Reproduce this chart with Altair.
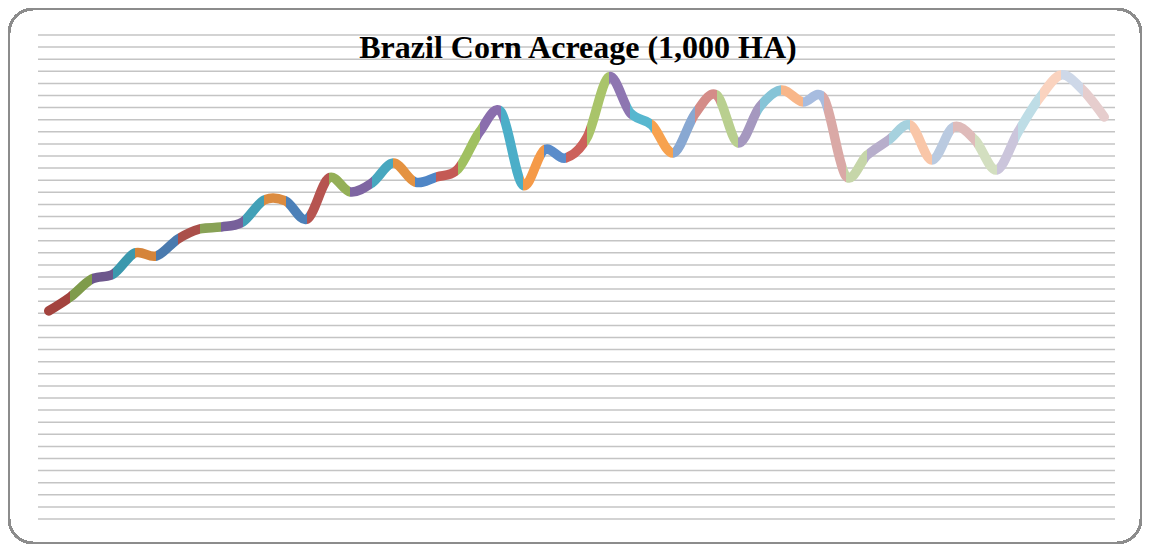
import altair as alt
import pandas as pd

# Brazil corn acreage (1,000 HA), one value per season
acreage = [6880, 7340, 7934, 8100, 8794, 8695, 9257, 9587, 9653, 9818,
           10546, 10513, 9918, 11273, 10810, 11108, 11769, 11141, 11306, 11571,
           12794, 13455, 11042, 12199, 11934, 12628, 14612, 13422, 13025, 12100,
           13389, 14017, 12430, 13621, 14183, 13786, 13885, 11340, 12034, 12530,
           13025, 11869, 12960, 12530, 11538, 12794, 13918, 14679, 14183, 13290]

# colour of each point (the segment that ends at the point takes its colour)
point_colors = ["#4A7AAA", "#A3433E", "#7F9B4B", "#6D578C", "#3B98AD", "#D5843A",
                "#4A7AAE", "#AA4F4A", "#88A256", "#77609A", "#42A0B7", "#DB8B40",
                "#4C80B8", "#B65450", "#94AF57", "#7E65A2", "#48A7BF", "#E49241",
                "#4F86C6", "#C45A55", "#A0C060", "#8A6EAD", "#4BAEC8", "#F59A48",
                "#5A8CCA", "#CC615B", "#A9C46A", "#8E76B1", "#57B7CF", "#F7A24F",
                "#88A8D2", "#D48C88", "#B9CF8F", "#A598BF", "#86C4D7", "#F8B689",
                "#A7BCDF", "#DAA9A6", "#C6D6A9", "#B7AECB", "#A6D1DE", "#F9C6A8",
                "#BACAE0", "#DFBBBA", "#D3DFC0", "#CBC5DB", "#BEDDE6", "#FAD3BF",
                "#CED8E8", "#E6CDCD"]

y_min, y_max, y_step = 0, 16000, 400
grid_values = list(range(y_min, y_max + 1, y_step))

n = len(acreage)
df = pd.DataFrame({"idx": list(range(n)), "acreage": acreage})
grid_df = pd.DataFrame({"acreage": grid_values,
                        "x0": [-0.5] * len(grid_values),
                        "x1": [n - 0.5] * len(grid_values)})

PLOT_W, PLOT_H = 1077, 484
unit = PLOT_W / n
y_scale = alt.Scale(domain=[y_min, y_max], nice=False, zero=False)

# panel edges (in category units), snapped to whole pixels so the layout stays exact
edges = [-0.5] + list(range(1, n - 1)) + [n - 0.5]
px_edges = [round((e + 0.5) * unit) for e in edges]

panels = []
for i in range(n - 1):
    w = px_edges[i + 1] - px_edges[i]
    lo = px_edges[i] / unit - 0.5
    hi = px_edges[i + 1] / unit - 0.5
    x_scale = alt.Scale(domain=[lo, hi], nice=False, zero=False)
    line = alt.Chart(df).mark_line(
        interpolate="cardinal", strokeWidth=9.5, strokeCap="round",
        strokeJoin="round", clip=True, color=point_colors[i + 1]
    ).encode(
        x=alt.X("idx:Q", scale=x_scale, axis=None),
        y=alt.Y("acreage:Q", scale=y_scale, axis=None),
    )
    if i == 0:
        frame = alt.Chart(df).mark_rect(
            filled=False, stroke="#8c8c8c", strokeWidth=2, cornerRadius=24, clip=False
        ).encode(x=alt.value(-29), x2=alt.value(1103), y=alt.value(-26), y2=alt.value(508))
        grid = alt.Chart(grid_df).mark_rule(
            color="#c4c4c4", strokeWidth=1.5, clip=False
        ).encode(
            y=alt.Y("acreage:Q", scale=y_scale, axis=None),
            x=alt.X("x0:Q", scale=x_scale, axis=None),
            x2="x1:Q",
        )
        panel = alt.layer(frame, grid, line).properties(width=w, height=PLOT_H)
    else:
        panel = line.properties(width=w, height=PLOT_H)
    panels.append(panel)

chart = alt.hconcat(*panels, spacing=0, bounds="flush").resolve_scale(
    x="independent", y="independent"
).properties(
    title=alt.Title("Brazil Corn Acreage (1,000 HA)", font="Liberation Serif", fontSize=32,
                    fontWeight="bold", color="black", anchor="middle", frame="bounds",
                    offset=-82, baseline="alphabetic", dx=3),
    padding=0,
).configure(background="white").configure_view(strokeOpacity=0, strokeWidth=0)

chart.save("out.html", embed_options={"renderer": "svg", "actions": False})
